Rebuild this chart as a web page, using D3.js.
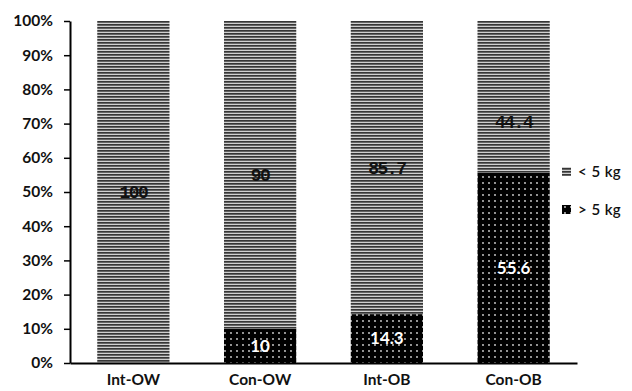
<!DOCTYPE html>
<html>
<head>
<meta charset="utf-8">
<script src="https://cdn.jsdelivr.net/npm/d3@7"></script>
<style>
  html, body { margin: 0; padding: 0; background: #fff; }
  svg { display: block; }
</style>
</head>
<body>
<svg id="chart" width="632" height="391"></svg>
<script>
// Weight-change groups and the share of each group (percent)
const categories = ["Int-OW", "Con-OW", "Int-OB", "Con-OB"];
const seriesNames = ["> 5 kg", "< 5 kg"];
const over5kg = [0, 10, 14.3, 55.6];
const under5kg = [100, 90, 85.7, 44.4];
const yTicks = [0, 10, 20, 30, 40, 50, 60, 70, 80, 90, 100];

const svg = d3.select("#chart");
const defs = svg.append("defs");

// Horizontal-line hatch for the "< 5 kg" share
const hatch = defs.append("pattern")
  .attr("id", "hatch").attr("patternUnits", "userSpaceOnUse")
  .attr("width", 4).attr("height", 3);
hatch.append("rect").attr("width", 4).attr("height", 3).attr("fill", "#cfcfcf");
hatch.append("rect").attr("width", 4).attr("height", 1.7).attr("fill", "#363636");

// White dots on black for the "> 5 kg" share
const dots = defs.append("pattern")
  .attr("id", "dots").attr("patternUnits", "userSpaceOnUse")
  .attr("width", 6).attr("height", 6);
dots.append("rect").attr("width", 6).attr("height", 6).attr("fill", "#000");
dots.append("circle").attr("cx", 3).attr("cy", 3).attr("r", 0.9).attr("fill", "#d8d8d8");

const x = d3.scaleBand().domain(categories).range([70, 577])
  .paddingInner(0.43).paddingOuter(0.215);
const y = d3.scaleLinear().domain([0, 100]).range([363, 21]);

const font = "Lato, 'Open Sans', sans-serif";

const rows = categories.map((c, i) => ({ cat: c, low: over5kg[i], high: under5kg[i] }));
const stack = d3.stack().keys(["low", "high"])(rows);
const fills = { low: "url(#dots)", high: "url(#hatch)" };

stack.forEach(layer => {
  svg.append("g").selectAll("rect").data(layer).join("rect")
    .attr("x", d => x(d.data.cat))
    .attr("width", x.bandwidth())
    .attr("y", d => y(d[1]))
    .attr("height", d => y(d[0]) - y(d[1]))
    .attr("fill", fills[layer.key]);
});

// Value labels inside segments
const labelNudge = { "Con-OB|high": 25 };
stack.forEach(layer => {
  svg.append("g").selectAll("text")
    .data(layer.filter(d => d[1] - d[0] > 0))
    .join("text")
    .attr("x", d => x(d.data.cat) + x.bandwidth() / 2)
    .attr("y", d => y((d[0] + d[1]) / 2) + (labelNudge[d.data.cat + "|" + layer.key] || 0))
    .attr("dy", "0.35em")
    .attr("text-anchor", "middle")
    .attr("font-family", layer.key === "low" ? font : "'Liberation Mono', 'DejaVu Sans Mono', monospace")
    .attr("font-weight", "bold")
    .attr("font-size", layer.key === "low" ? 17 : 18)
    .attr("letter-spacing", layer.key === "low" ? 0 : -1.5)
    .attr("fill", layer.key === "low" ? "#fff" : "#111")
    .text(d => d.data[layer.key]);
});

// Y axis
const yAxis = svg.append("g").attr("transform", "translate(70,0)")
  .call(d3.axisLeft(y).tickValues(yTicks).tickSize(6).tickSizeOuter(0)
    .tickFormat(d => d + "%"));
yAxis.select(".domain").attr("stroke", "#000").attr("stroke-width", 2);
yAxis.selectAll(".tick line").attr("stroke", "#000").attr("stroke-width", 1.5);
yAxis.selectAll(".tick text").attr("font-family", font).attr("font-weight", "bold")
  .attr("font-size", 15.5).attr("fill", "#111").attr("x", -17);

// X axis
const xAxis = svg.append("g").attr("transform", "translate(0,363)")
  .call(d3.axisBottom(x).tickSize(0).tickSizeOuter(0));
xAxis.select(".domain").attr("stroke", "#000").attr("stroke-width", 2);
xAxis.selectAll(".tick text").attr("font-family", font).attr("font-weight", "bold")
  .attr("font-size", 15.5).attr("fill", "#111").attr("dy", "0.9em").attr("y", 8);

// Legend
const legend = svg.append("g").attr("transform", "translate(562,0)");
const legendItems = [
  { name: seriesNames[1], fill: "url(#hatch)", y: 172 },
  { name: seriesNames[0], fill: "url(#dots)", y: 210 }
];
legendItems.forEach(it => {
  legend.append("rect").attr("x", 0).attr("y", it.y - 5).attr("width", 9).attr("height", 9)
    .attr("fill", it.fill);
  legend.append("text").attr("x", 16).attr("y", it.y).attr("dy", "0.35em")
    .attr("font-family", font).attr("font-weight", 600).attr("font-size", 15).attr("fill", "#111")
    .attr("word-spacing", 1)
    .text(it.name);
});
</script>
</body>
</html>
